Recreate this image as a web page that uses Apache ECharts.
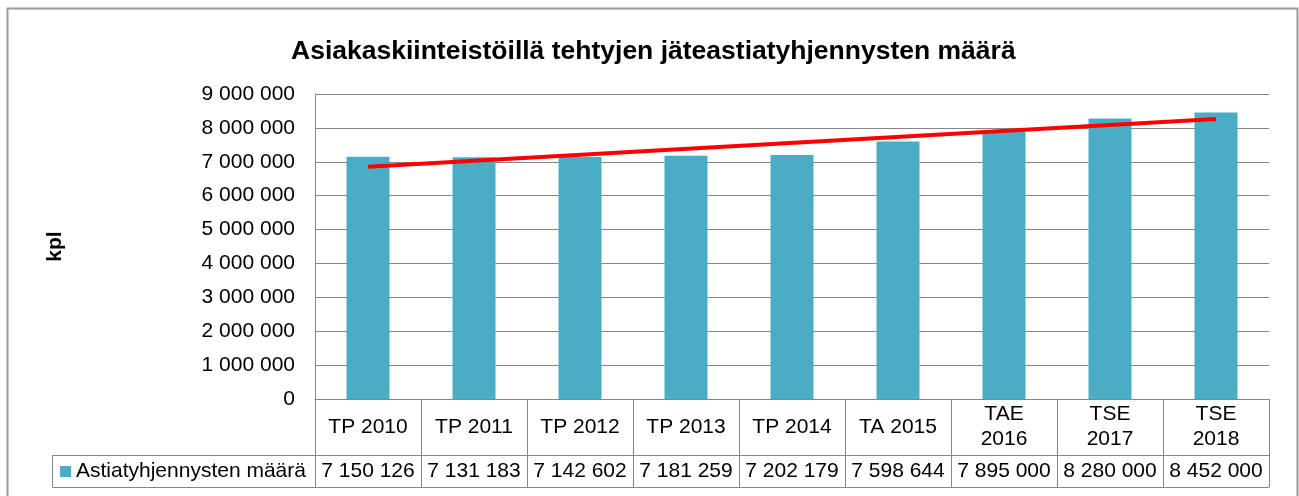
<!DOCTYPE html>
<html>
<head>
<meta charset="utf-8">
<script src="https://cdn.jsdelivr.net/npm/echarts@6/dist/echarts.min.js"></script>
<style>
  html, body { margin: 0; padding: 0; background: #fff; }
  #chart { width: 1299px; height: 496px; }
</style>
</head>
<body>
<div id="chart"></div>
<script>
const categories = ['TP 2010', 'TP 2011', 'TP 2012', 'TP 2013', 'TP 2014', 'TA 2015', 'TAE\n2016', 'TSE\n2017', 'TSE\n2018'];
const emptyings = [7150126, 7131183, 7142602, 7181259, 7202179, 7598644, 7895000, 8280000, 8452000];
// trend line end points (first and last category)
const trendIdx = [0, 8];
const trendVals = [6855000, 8265000];
const yTicks = [0, 1000000, 2000000, 3000000, 4000000, 5000000, 6000000, 7000000, 8000000, 9000000];

const FONT = '"Liberation Sans", Arial, sans-serif';
const GRAY = '#868686';

// 7150126 -> "7 150 126"
function fmt(v) {
    return String(v).replace(/\B(?=(\d{3})+(?!\d))/g, ' ');
}

const chart = echarts.init(document.getElementById('chart'), null, { renderer: 'canvas' });

chart.setOption({
    animation: false,
    textStyle: { fontFamily: FONT },
    title: {
        text: 'Asiakaskiinteistöillä tehtyjen jäteastiatyhjennysten määrä',
        left: 286,
        top: 33,
        textStyle: { fontFamily: FONT, fontSize: 26.5, fontWeight: 'bold', color: '#000' }
    },
    legend: {
        data: ['Astiatyhjennysten määrä'],
        left: 60,
        top: 461,
        padding: 0,
        icon: 'rect',
        itemWidth: 11,
        itemHeight: 11,
        textStyle: { fontFamily: FONT, fontSize: 21, color: '#000' }
    },
    grid: { left: 315, right: 30, top: 94, bottom: 97 },
    xAxis: [
        {
            type: 'category',
            data: categories,
            position: 'bottom',
            axisLine: { lineStyle: { color: GRAY, width: 1 } },
            axisTick: { show: true, interval: 0, length: 56, lineStyle: { color: GRAY } },
            axisLabel: {
                interval: 0, margin: 28, verticalAlign: 'middle',
                fontSize: 21, lineHeight: 25, color: '#000', fontFamily: FONT
            }
        },
        {
            type: 'category',
            data: categories,
            position: 'bottom',
            offset: 56,
            axisLine: { lineStyle: { color: GRAY, width: 1 } },
            axisTick: { show: true, interval: 0, length: 32, lineStyle: { color: GRAY } },
            axisLabel: {
                interval: 0, margin: 16, verticalAlign: 'middle',
                fontSize: 21, color: '#000', fontFamily: FONT,
                formatter: function (val, idx) { return fmt(emptyings[idx]); }
            }
        },
        {
            type: 'category',
            data: categories,
            position: 'bottom',
            offset: 88,
            axisLine: { lineStyle: { color: GRAY, width: 1 } },
            axisTick: { show: false },
            axisLabel: { show: false }
        }
    ],
    yAxis: {
        type: 'value',
        min: yTicks[0],
        max: yTicks[yTicks.length - 1],
        interval: 1000000,
        name: 'kpl',
        nameLocation: 'middle',
        nameGap: 249,
        nameTextStyle: { fontFamily: FONT, fontSize: 21, fontWeight: 'bold', color: '#000' },
        axisLine: { show: true, lineStyle: { color: GRAY, width: 1 } },
        axisTick: { show: false },
        splitLine: { lineStyle: { color: GRAY, width: 1 } },
        axisLabel: {
            margin: 20, fontSize: 21, color: '#000', fontFamily: FONT,
            formatter: function (v) { return fmt(v); }
        }
    },
    graphic: [
        {
            type: 'rect',
            shape: { x: 7.5, y: 8.5, width: 1290, height: 500 },
            style: { fill: 'none', stroke: '#9a9a9a', lineWidth: 2 },
            silent: true
        },
        {
            type: 'rect',
            shape: { x: 52.5, y: 455.5, width: 263, height: 32 },
            style: { fill: 'none', stroke: GRAY, lineWidth: 1 },
            silent: true
        }
    ],
    series: [
        {
            name: 'Astiatyhjennysten määrä',
            type: 'bar',
            barWidth: 43,
            itemStyle: { color: '#4BACC6' },
            data: emptyings
        },
        {
            name: 'trend',
            type: 'line',
            symbol: 'none',
            lineStyle: { color: '#FF0000', width: 4 },
            data: trendIdx.map(function (i, k) { return [i, trendVals[k]]; }),
            z: 5
        }
    ]
});
</script>
</body>
</html>
